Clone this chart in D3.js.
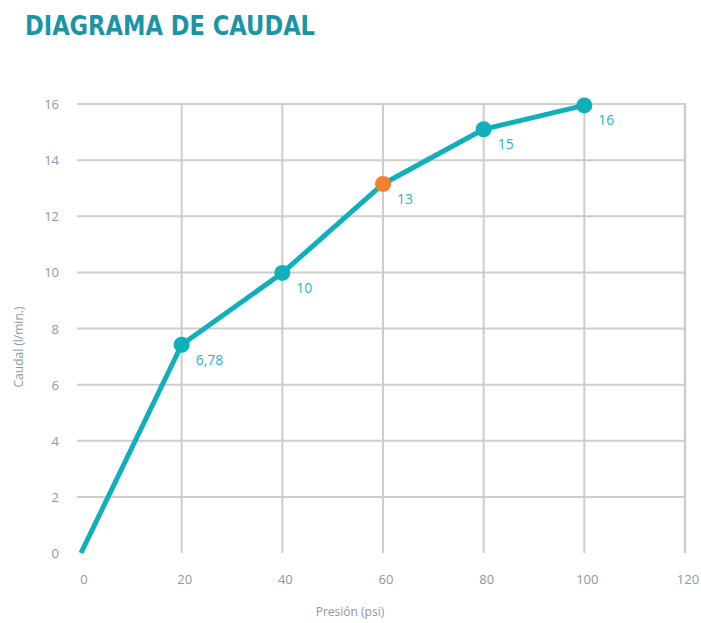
<!DOCTYPE html>
<html>
<head>
<meta charset="utf-8">
<script src="https://cdn.jsdelivr.net/npm/d3@7"></script>
<style>
  body { margin: 0; background: #fff; }
  svg { display: block; }
  .tick-label { font-family: "Open Sans", sans-serif; font-size: 13px; fill: #8c97a8; }
  .point-label { font-family: "Open Sans", sans-serif; font-size: 14px; fill: #1fb5c2; }
</style>
</head>
<body>
<svg id="chart" width="701" height="623"></svg>
<script>
// caudal vs presion
var presion = [0, 20, 40, 60, 80, 100];
var caudal = [0, 7.42, 9.98, 13.15, 15.1, 15.95];
var etiquetas = [null, '6,78', '10', '13', '15', '16'];
var destacado = 3; // the orange point

var xTicks = [0, 20, 40, 60, 80, 100, 120];
var yTicks = [0, 2, 4, 6, 8, 10, 12, 14, 16];

var teal = '#0fb0bb';
var orange = '#f47f2d';
var grid = '#cdcdcd';

var svg = d3.select('#chart');

var x = d3.scaleLinear().domain([0, 120]).range([81, 685]);
var y = d3.scaleLinear().domain([0, 16]).range([553, 104]);

// title (condensed look via textLength)
svg.append('text')
  .attr('x', 25)
  .attr('y', 35)
  .attr('textLength', 290)
  .attr('lengthAdjust', 'spacingAndGlyphs')
  .style('font-family', '"DejaVu Sans", sans-serif')
  .style('font-weight', 'bold')
  .style('font-size', '27px')
  .style('fill', '#1d94a3')
  .text('DIAGRAMA DE CAUDAL');

// grid: horizontal lines for every tick but 0, vertical lines for every tick but 0
var gridG = svg.append('g');

gridG.selectAll('line.h')
  .data(yTicks.filter(function(d) { return d > 0; }))
  .enter().append('line')
    .attr('class', 'h')
    .attr('x1', x(0) - 4)
    .attr('x2', x(120) + 1)
    .attr('y1', function(d) { return y(d); })
    .attr('y2', function(d) { return y(d); })
    .style('stroke', grid)
    .style('stroke-width', 2);

gridG.selectAll('line.v')
  .data(xTicks.filter(function(d) { return d > 0; }))
  .enter().append('line')
    .attr('class', 'v')
    .attr('x1', function(d) { return x(d); })
    .attr('x2', function(d) { return x(d); })
    .attr('y1', y(16) - 1)
    .attr('y2', y(0))
    .style('stroke', grid)
    .style('stroke-width', function(d) { return d === 120 ? 2.5 : 2; });

// tick labels
svg.append('g').selectAll('text')
  .data(yTicks)
  .enter().append('text')
    .attr('class', 'tick-label')
    .attr('x', 59)
    .attr('y', function(d) { return y(d) + 5; })
    .attr('text-anchor', 'end')
    .text(function(d) { return d; });

svg.append('g').selectAll('text')
  .data(xTicks)
  .enter().append('text')
    .attr('class', 'tick-label')
    .attr('x', function(d) { return x(d) + 3; })
    .attr('y', 584)
    .attr('text-anchor', 'middle')
    .text(function(d) { return d; });

// axis titles
svg.append('text')
  .attr('class', 'tick-label')
  .attr('x', 350)
  .attr('y', 616)
  .attr('text-anchor', 'middle')
  .style('font-size', '12px')
  .text('Presión (psi)');

svg.append('text')
  .attr('class', 'tick-label')
  .attr('transform', 'translate(23,347) rotate(-90)')
  .attr('text-anchor', 'middle')
  .style('font-size', '12px')
  .text('Caudal (l/min.)');

var data = presion.map(function(p, i) {
  return { p: p, q: caudal[i], label: etiquetas[i], i: i };
});

// the line
var line = d3.line()
  .x(function(d) { return x(d.p); })
  .y(function(d) { return y(d.q); });

svg.append('path')
  .datum(data)
  .attr('d', line)
  .style('fill', 'none')
  .style('stroke', teal)
  .style('stroke-width', 5)
  .style('stroke-linejoin', 'round');

// markers (skip the origin)
var pts = data.filter(function(d) { return d.label !== null; });

svg.append('g').selectAll('circle')
  .data(pts)
  .enter().append('circle')
    .attr('cx', function(d) { return x(d.p); })
    .attr('cy', function(d) { return y(d.q); })
    .attr('r', 8)
    .style('fill', function(d) { return d.i === destacado ? orange : teal; });

svg.append('g').selectAll('text')
  .data(pts)
  .enter().append('text')
    .attr('class', 'point-label')
    .attr('x', function(d) { return x(d.p) + 14; })
    .attr('y', function(d) { return y(d.q) + 20; })
    .text(function(d) { return d.label; });
</script>
</body>
</html>
